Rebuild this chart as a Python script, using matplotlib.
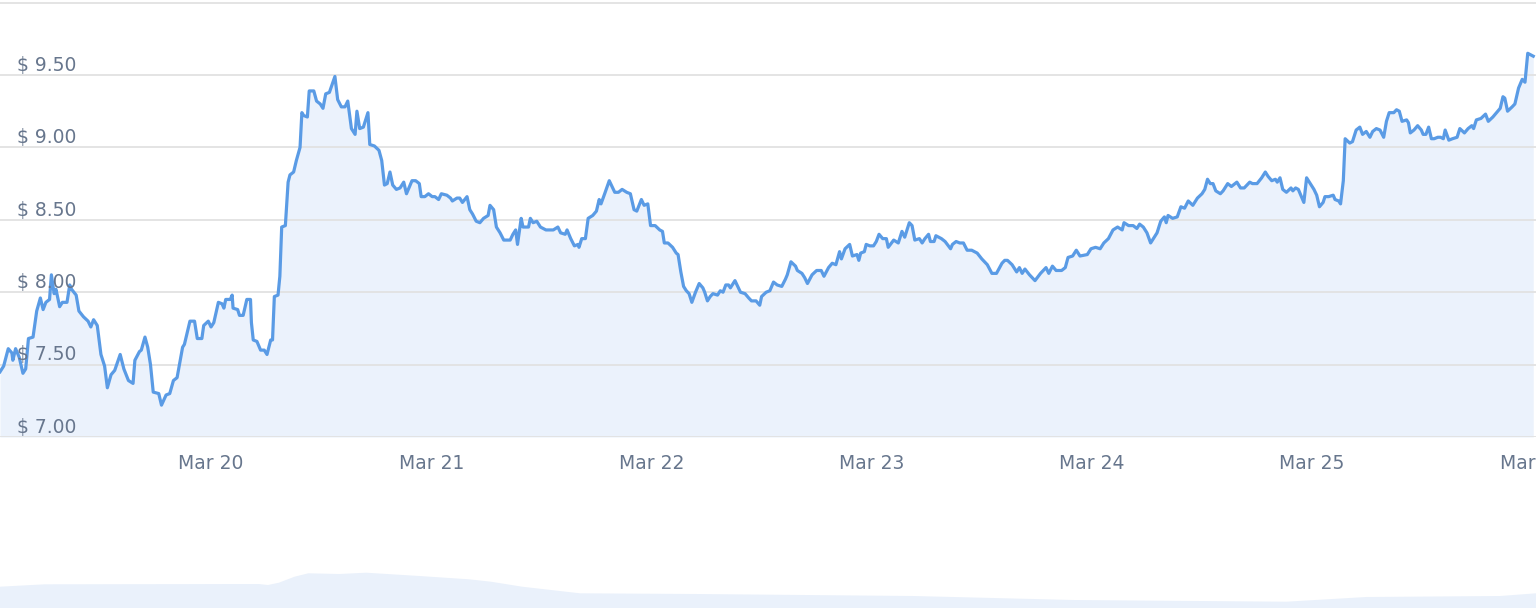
import matplotlib
matplotlib.use("Agg")
import matplotlib.pyplot as plt
import matplotlib.dates as mdates
import matplotlib.transforms as mtransforms
import pandas as pd

# hours since 2024-03-19 00:00
hours = [1.0, 1.4, 1.9, 2.3, 2.4, 2.7, 3.1, 3.5, 3.8, 4.1, 4.6, 5.0, 5.4, 5.7, 6.0, 6.4, 6.6, 6.9, 7.1, 7.5,
         7.8, 8.3, 8.6, 8.8, 9.3, 9.6, 10.1, 10.6, 10.9, 11.2, 11.6, 12.0, 12.4, 12.7, 13.1, 13.5, 14.1, 14.5, 15.0, 15.5,
         15.7, 16.2, 16.4, 16.8, 17.1, 17.4, 17.7, 18.3, 18.6, 19.1, 19.5, 19.9, 20.3, 20.9, 21.1, 21.7, 22.2, 22.5, 23.0, 23.2,
         23.7, 24.0, 24.3, 24.8, 25.2, 25.4, 25.6, 26.1, 26.3, 26.4, 26.9, 27.1, 27.5, 27.9, 28.3, 28.4, 28.6, 29.0, 29.4, 29.8,
         30.1, 30.5, 30.7, 30.9, 31.3, 31.5, 31.7, 32.1, 32.4, 32.6, 33.0, 33.3, 33.7, 33.9, 34.1, 34.5, 34.7, 35.2, 35.5, 35.9,
         36.2, 36.5, 36.9, 37.5, 37.8, 38.2, 38.6, 38.9, 39.3, 39.7, 39.9, 40.2, 40.6, 41.1, 41.3, 41.8, 42.3, 42.6, 42.9, 43.2,
         43.5, 43.8, 44.2, 44.6, 45.0, 45.3, 45.9, 46.3, 46.7, 46.9, 47.3, 47.7, 48.1, 48.4, 48.8, 49.1, 49.7, 50.1, 50.3, 50.8,
         51.1, 51.4, 51.9, 52.2, 52.5, 52.9, 53.3, 53.7, 54.2, 54.4, 54.8, 55.1, 55.5, 55.9, 56.6, 56.9, 57.2, 57.4, 57.8, 58.0,
         58.6, 58.8, 59.1, 59.5, 59.9, 60.5, 61.3, 61.8, 62.1, 62.6, 62.8, 63.2, 63.6, 64.0, 64.1, 64.4, 64.8, 65.1, 65.6, 66.0,
         66.3, 66.5, 66.9, 67.4, 68.0, 68.4, 68.8, 69.3, 69.7, 70.1, 70.4, 70.9, 71.2, 71.6, 71.9, 72.4, 72.9, 73.2, 73.4, 73.8,
         74.3, 74.7, 74.9, 75.2, 75.5, 75.8, 76.1, 76.4, 76.8, 77.2, 77.6, 77.8, 78.1, 78.4, 78.7, 79.2, 79.5, 79.8, 80.1, 80.4,
         80.6, 81.1, 81.4, 81.7, 82.2, 82.6, 82.9, 83.4, 83.8, 84.0, 84.5, 84.9, 85.3, 85.7, 86.2, 86.6, 86.8, 87.2, 87.7, 87.9,
         88.4, 88.7, 89.0, 89.5, 90.0, 90.5, 90.8, 91.3, 91.7, 92.1, 92.5, 92.7, 93.1, 93.6, 93.9, 94.4, 94.6, 94.8, 95.2, 95.4,
         95.8, 96.2, 96.5, 96.8, 97.2, 97.6, 97.8, 98.4, 98.9, 99.3, 99.6, 100.1, 100.4, 100.7, 101.2, 101.5, 101.8, 102.2, 102.4, 102.8,
         103.0, 103.6, 104.0, 104.6, 104.8, 105.2, 105.6, 106.0, 106.4, 106.9, 107.5, 108.0, 108.6, 109.1, 109.6, 110.2, 110.5, 110.8, 111.3, 111.8,
         112.1, 112.4, 112.7, 113.2, 113.8, 114.4, 115.0, 115.3, 115.7, 116.1, 116.7, 117.1, 117.4, 117.9, 118.3, 118.7, 119.5, 119.9, 120.4, 120.9,
         121.3, 121.8, 122.3, 122.8, 123.3, 123.5, 124.0, 124.5, 124.9, 125.2, 125.6, 126.0, 126.4, 126.8, 127.1, 127.5, 127.9, 128.1, 128.3, 128.8,
         129.3, 129.7, 130.1, 130.5, 131.0, 131.5, 132.0, 132.3, 132.6, 132.9, 133.2, 133.5, 134.0, 134.3, 134.8, 135.2, 135.8, 136.2, 136.6, 137.2,
         137.5, 138.0, 138.5, 138.9, 139.2, 139.6, 140.0, 140.2, 140.5, 140.8, 141.2, 141.7, 141.9, 142.2, 142.5, 143.1, 143.4, 143.8, 144.2, 144.5,
         144.8, 145.2, 145.4, 145.8, 146.3, 146.5, 146.9, 147.1, 147.4, 147.6, 148.1, 148.4, 148.8, 149.2, 149.5, 149.9, 150.3, 150.6, 151.0, 151.4,
         151.8, 152.1, 152.4, 152.9, 153.2, 153.5, 153.8, 154.3, 154.5, 154.7, 155.1, 155.5, 155.9, 156.1, 156.4, 156.7, 157.0, 157.3, 157.7, 158.0,
         158.3, 158.5, 158.9, 159.3, 159.8, 160.1, 160.6, 161.0, 161.4, 161.6, 161.9, 162.4, 162.9, 163.2, 163.7, 164.1, 164.5, 164.8, 165.0, 165.3,
         165.8, 166.1, 166.5, 166.9, 167.2, 167.5, 167.8, 168.1]

price = [7.45, 7.49, 7.61, 7.58, 7.53, 7.61, 7.55, 7.44, 7.47, 7.68, 7.69, 7.87, 7.96, 7.88, 7.93, 7.95, 8.12, 7.99, 8.02, 7.90,
         7.93, 7.93, 8.05, 8.02, 7.98, 7.87, 7.83, 7.80, 7.76, 7.81, 7.77, 7.57, 7.49, 7.34, 7.43, 7.46, 7.57, 7.47, 7.39, 7.37,
         7.53, 7.59, 7.60, 7.69, 7.62, 7.50, 7.31, 7.30, 7.22, 7.29, 7.30, 7.39, 7.41, 7.62, 7.64, 7.80, 7.80, 7.68, 7.68, 7.77,
         7.80, 7.76, 7.79, 7.93, 7.92, 7.89, 7.95, 7.95, 7.98, 7.89, 7.88, 7.84, 7.84, 7.95, 7.95, 7.79, 7.67, 7.66, 7.60, 7.60,
         7.57, 7.67, 7.67, 7.97, 7.98, 8.11, 8.45, 8.46, 8.76, 8.81, 8.83, 8.91, 9.00, 9.24, 9.22, 9.21, 9.39, 9.39, 9.32, 9.30,
         9.27, 9.37, 9.38, 9.49, 9.33, 9.28, 9.28, 9.32, 9.13, 9.09, 9.25, 9.13, 9.14, 9.24, 9.02, 9.01, 8.98, 8.91, 8.74, 8.75,
         8.83, 8.74, 8.71, 8.72, 8.76, 8.68, 8.77, 8.77, 8.75, 8.66, 8.66, 8.68, 8.66, 8.66, 8.64, 8.68, 8.67, 8.65, 8.63, 8.65,
         8.65, 8.62, 8.66, 8.57, 8.54, 8.49, 8.48, 8.51, 8.53, 8.60, 8.57, 8.45, 8.41, 8.36, 8.36, 8.40, 8.43, 8.33, 8.51, 8.45,
         8.45, 8.51, 8.48, 8.49, 8.45, 8.43, 8.43, 8.45, 8.41, 8.40, 8.43, 8.37, 8.32, 8.33, 8.31, 8.37, 8.37, 8.51, 8.53, 8.56,
         8.64, 8.61, 8.68, 8.77, 8.69, 8.69, 8.71, 8.69, 8.68, 8.57, 8.56, 8.64, 8.60, 8.61, 8.46, 8.46, 8.43, 8.42, 8.34, 8.34,
         8.31, 8.27, 8.26, 8.14, 8.04, 8.01, 7.99, 7.93, 8.00, 8.06, 8.03, 8.00, 7.94, 7.97, 7.99, 7.98, 8.01, 8.00, 8.05, 8.05,
         8.03, 8.08, 8.04, 8.00, 7.99, 7.96, 7.94, 7.94, 7.91, 7.97, 8.00, 8.01, 8.07, 8.05, 8.04, 8.09, 8.12, 8.21, 8.18, 8.15,
         8.13, 8.10, 8.06, 8.12, 8.15, 8.15, 8.11, 8.17, 8.20, 8.19, 8.28, 8.23, 8.30, 8.33, 8.25, 8.26, 8.22, 8.27, 8.28, 8.33,
         8.32, 8.32, 8.35, 8.40, 8.37, 8.37, 8.31, 8.36, 8.34, 8.42, 8.38, 8.48, 8.46, 8.36, 8.37, 8.34, 8.37, 8.40, 8.35, 8.35,
         8.39, 8.37, 8.35, 8.30, 8.33, 8.35, 8.34, 8.34, 8.29, 8.29, 8.27, 8.23, 8.19, 8.13, 8.13, 8.20, 8.22, 8.22, 8.19, 8.14,
         8.17, 8.13, 8.16, 8.12, 8.08, 8.13, 8.17, 8.13, 8.18, 8.15, 8.15, 8.17, 8.24, 8.25, 8.29, 8.25, 8.26, 8.30, 8.31, 8.30,
         8.34, 8.37, 8.43, 8.45, 8.43, 8.48, 8.46, 8.46, 8.44, 8.47, 8.45, 8.41, 8.34, 8.38, 8.41, 8.49, 8.52, 8.48, 8.53, 8.51,
         8.52, 8.59, 8.58, 8.63, 8.60, 8.65, 8.68, 8.71, 8.78, 8.75, 8.75, 8.70, 8.68, 8.70, 8.75, 8.73, 8.76, 8.72, 8.72, 8.76,
         8.75, 8.75, 8.79, 8.83, 8.80, 8.77, 8.78, 8.76, 8.79, 8.71, 8.69, 8.72, 8.70, 8.72, 8.71, 8.62, 8.79, 8.75, 8.71, 8.67,
         8.59, 8.62, 8.66, 8.66, 8.67, 8.64, 8.63, 8.61, 8.77, 9.06, 9.03, 9.04, 9.12, 9.14, 9.09, 9.11, 9.07, 9.11, 9.13, 9.12,
         9.07, 9.18, 9.24, 9.24, 9.26, 9.25, 9.18, 9.19, 9.17, 9.10, 9.12, 9.15, 9.12, 9.09, 9.09, 9.14, 9.06, 9.06, 9.07, 9.07,
         9.06, 9.12, 9.05, 9.06, 9.07, 9.13, 9.10, 9.13, 9.15, 9.13, 9.19, 9.20, 9.23, 9.18, 9.21, 9.24, 9.27, 9.35, 9.34, 9.25,
         9.28, 9.30, 9.41, 9.47, 9.45, 9.65, 9.64, 9.63]

# navigator strip at the bottom (relative volume)
nav_hours = [1.0, 5.9, 29.2, 30.2, 31.4, 33.1, 34.6, 38.0, 40.9, 46.7, 52.1, 54.5, 57.9, 64.2, 76.9,
             100.5, 118.0, 141.2, 149.9, 164.5, 168.4]
nav_volume = [21.3, 23.7, 24.0, 23.0, 25.3, 31.3, 34.7, 34.0, 35.3, 32.0, 28.7, 26.3, 21.3, 14.7, 14.0,
              12.0, 8.0, 6.3, 11.0, 12.0, 14.7]

y_levels = [7.0, 7.5, 8.0, 8.5, 9.0, 9.5, 10.0]
y_labels = ["$ 7.00", "$ 7.50", "$ 8.00", "$ 8.50", "$ 9.00", "$ 9.50"]

base = pd.Timestamp("2024-03-19 00:00")
t = base + pd.to_timedelta(hours, unit="h")
nav_t = base + pd.to_timedelta(nav_hours, unit="h")
x0 = base + pd.Timedelta(hours=1.0)
x1 = base + pd.Timedelta(hours=168.4)

line_col = "#5a9be5"
fill_col = "#ebf2fc"
text_col = "#67768d"
grid_col = "#e2e2e2"

fig = plt.figure(figsize=(15.36, 6.08), dpi=100)

ax = fig.add_axes([0, 1 - 437 / 608, 1, 437 / 608])
ax.fill_between(t, price, 7.0, color=fill_col, lw=0, zorder=1)
ax.plot(t, price, color=line_col, lw=2.3, solid_joinstyle="round", zorder=3)
ax.set_xlim(x0, x1)
ax.set_ylim(7.0, 10.018)

ax.set_yticks(y_levels)
ax.yaxis.grid(True, color=grid_col, lw=1.3, zorder=2)
ax.set_axisbelow(False)
ax.tick_params(axis="y", left=False, labelleft=False)
for s in ax.spines.values():
    s.set_visible(False)

trans = mtransforms.blended_transform_factory(ax.transAxes, ax.transData)
for v, lab in zip(y_levels, y_labels):
    ax.annotate(lab, xy=(0.0113, v), xycoords=trans, xytext=(0, 3), textcoords="offset points",
                va="baseline", ha="left", fontsize=13.5, color=text_col, zorder=4)

ax.xaxis.set_major_locator(mdates.DayLocator())
ax.xaxis.set_major_formatter(mdates.DateFormatter("%b %d"))
ax.tick_params(axis="x", bottom=False, pad=9, labelsize=13.5, labelcolor=text_col)

nav = fig.add_axes([0, 0, 1, 60 / 608])
nav.fill_between(nav_t, nav_volume, 0, color="#eaf1fb", lw=0)
nav.set_xlim(x0, x1)
nav.set_ylim(0, 60)
nav.axis("off")

fig.savefig("out.png", dpi=100)
